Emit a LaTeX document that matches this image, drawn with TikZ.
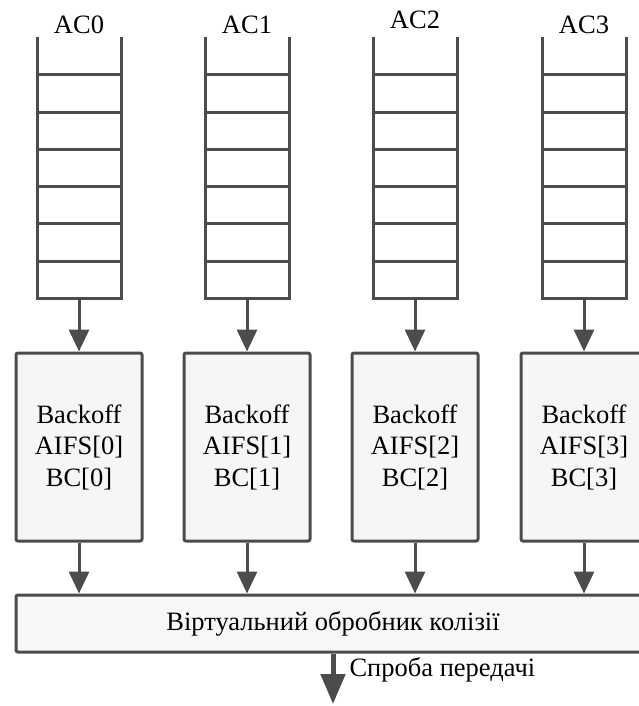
\documentclass[tikz,border=0pt]{standalone}
\usepackage{fontspec}
\setmainfont{Liberation Serif}
\usetikzlibrary{arrows.meta}
\tikzset{
  line/.style={draw=black!70,line width=3pt},
  flow/.style={line,-{Triangle[width=20pt,length=22pt]}},
  bobox/.style={line,fill=gray!7,rounded corners=2pt,minimum width=126pt,
    minimum height=188pt,align=center},
}

\begin{document}
\begin{tikzpicture}[x=1pt,y=-1pt,font=\fontsize{26.5}{31.5}\selectfont]
  \useasboundingbox (0,0) rectangle (638,706);
  % four queues with their backoff boxes
  \foreach \i/\x/\ly in {0/79/25,1/247/25,2/415/20,3/584/25} {
    \node (ac\i) at (\x,\ly) {AC\i};
    \draw[line] (\x-42,37) -- (\x-42,298) -- (\x+42,298) -- (\x+42,37);
    \foreach \k in {0,...,5}
      \draw[line] (\x-42,75+37.2*\k) -- (\x+42,75+37.2*\k);
    \coordinate (q\i) at (\x,298);
    \node[bobox] (b\i) at (\x,447) {Backoff\\AIFS[\i]\\BC[\i]};
    \draw[flow] (q\i) -- (b\i.north);
  }
  \node[line,fill=gray!6,rounded corners=2pt,minimum width=634pt,
    minimum height=57pt] (bar) at (333,623.5) {Віртуальний обробник колізії};
  \foreach \i in {0,...,3}
    \draw[flow] (b\i.south) -- (b\i.south |- bar.north);
  \coordinate (out) at (333,704);
  \draw[line,line width=5pt,-{Triangle[width=24pt,length=30pt]}] (bar.south) -- (out);
  \node[anchor=west] (try) at (346,670) {Спроба передачі};
\end{tikzpicture}
\end{document}
